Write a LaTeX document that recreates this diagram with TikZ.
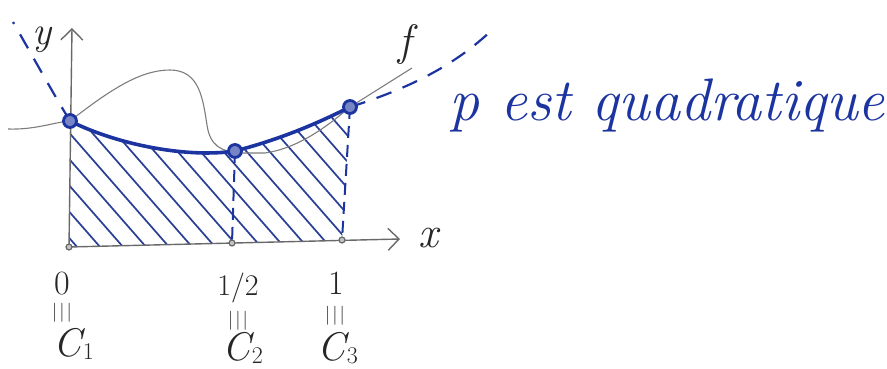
\documentclass[tikz,border=0pt]{standalone}
\usepackage{fontspec}
\usetikzlibrary{arrows.meta}
\definecolor{penblue}{RGB}{28,52,160}
\definecolor{hatchblue}{RGB}{40,62,150}
\definecolor{axisgray}{RGB}{105,105,105}
\definecolor{fgray}{RGB}{125,125,125}
\tikzset{
  axisline/.style={draw=axisgray, line width=1.4pt, -{Straight Barb[length=11pt,width=22pt,line width=1.4pt]}},
  fcurve/.style={draw=fgray, line width=1.1pt},
  pcurve/.style={draw=penblue, line width=3.6pt, line cap=round},
  pext/.style={draw=penblue, line width=2.2pt, dash pattern=on 16pt off 12pt},
  vdash/.style={draw=penblue, line width=2pt, dash pattern=on 12pt off 7pt},
  hatchline/.style={draw=hatchblue, line width=1.7pt},
  ptmark/.style={draw=penblue, line width=2.8pt, fill=penblue!60, circle, minimum size=13pt, inner sep=0pt},
  tickmark/.style={draw=axisgray, line width=1.2pt, fill=axisgray!40, circle, minimum size=6pt, inner sep=0pt},
  hand/.style={text=black!85, inner sep=0pt},
  digit/.style={hand, font=\fontsize{34}{34}\selectfont},
  vequal/.style={hand, font=\fontsize{19}{19}\selectfont},
  cname/.style={hand, font=\fontsize{40}{40}\selectfont\itshape},
}
\newcommand{\vbars}{|\kern2pt|\kern2pt|}
\newcommand{\cidx}[2]{#1\kern1pt\raisebox{-3pt}{\fontsize{24}{24}\selectfont\upshape #2}}
\begin{document}
\begin{tikzpicture}[x=1pt,y=-1pt]
\useasboundingbox (0,0) rectangle (887,369);
% key points
\coordinate (O) at (69,247);
\coordinate (Ytop) at (72,28);
\coordinate (Xend) at (400,239);
\coordinate (P1) at (70,121);
\coordinate (P2) at (235,151);
\coordinate (P3) at (350,107);
\coordinate (T2) at (232,243);
\coordinate (T3) at (342,240);
\coordinate (L1) at (13,22);
\coordinate (R1) at (492,30);
\coordinate (Fend) at (412,68);
% hatching
\begin{scope}
  \clip (P1) .. controls (120,146) and (190,158) .. (P2)
        .. controls (285,138) and (322,121) .. (P3)
        -- (T3) -- (O) -- cycle;
  \foreach \i in {-300,-277,...,360}
    \draw[hatchline] (\i,0) -- ++(280,320);
\end{scope}
% axes
\draw[axisline] (O) -- (Ytop);
\draw[axisline] (O) -- (Xend);
% function f
\draw[fcurve] (8,129) .. controls (35,130) and (55,122) .. (P1)
  .. controls (110,90) and (140,70) .. (170,70)
  .. controls (200,70) and (203,100) .. (207,125)
  .. controls (210,145) and (220,152) .. (242,153)
  -- (265,153) .. controls (300,148) and (330,124) .. (P3) -- (Fend);
% quadratic p
\draw[pcurve] (P1) .. controls (120,146) and (190,158) .. (P2)
  .. controls (285,138) and (322,121) .. (P3);
\draw[pext] (P1) .. controls (50,88) and (28,48) .. (L1);
\draw[pext] (P3) .. controls (420,85) and (460,60) .. (R1);
% verticals
\draw[vdash] (P2) -- (T2);
\draw[vdash] (P3) -- (T3);
% ticks
\node[tickmark] (t1) at (O) {};
\node[tickmark] (t2) at (T2) {};
\node[tickmark] (t3) at (T3) {};
% points
\node[ptmark] (m1) at (P1) {};
\node[ptmark] (m2) at (P2) {};
\node[ptmark] (m3) at (P3) {};
% labels
\node[hand, font=\fontsize{40}{40}\selectfont\itshape] (ylab) at (42,40) {y};
\node[hand, font=\fontsize{44}{44}\selectfont\itshape] (xlab) at (428,238) {x};
\node[hand, font=\fontsize{44}{44}\selectfont\itshape] (flab) at (405,45) {f};
\node[digit] (c0) at (62,284) {0};
\node[vequal] (e0) at (62,313) {\vbars};
\node[cname] (C1) at (74,344) {\cidx{C}{1}};
\node[digit, font=\fontsize{30}{30}\selectfont] (c2) at (238,288) {1/2};
\node[vequal] (e2) at (238,321) {\vbars};
\node[cname] (C2) at (243,348) {\cidx{C}{2}};
\node[digit] (c3) at (336,283) {1};
\node[vequal] (e3) at (335,316) {\vbars};
\node[cname] (C3) at (338,348) {\cidx{C}{3}};
\node[anchor=base west, inner sep=0pt, text=penblue, font=\fontsize{60}{60}\selectfont\itshape] (ptext) at (449,121) {p est quadratique};
\end{tikzpicture}
\end{document}
